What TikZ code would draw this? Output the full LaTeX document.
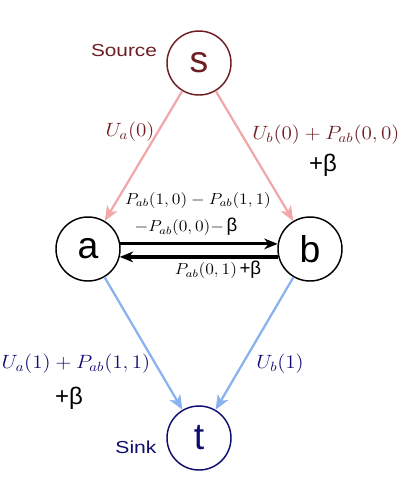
\documentclass[tikz,border=0pt]{standalone}
\usepackage{fontspec}
\setsansfont{Liberation Sans}
\usetikzlibrary{arrows.meta}

\definecolor{SourceRed}{RGB}{110,30,34}
\definecolor{SinkBlue}{RGB}{14,14,112}
\definecolor{UpPink}{RGB}{242,168,168}
\definecolor{DownBlue}{RGB}{138,178,240}

\newcommand{\wide}[2][1.1]{\scalebox{#1}[1]{#2}}
\newcommand{\sbeta}{{\sffamily\fontsize{14}{16}\selectfont β}}
\newcommand{\mbeta}{{\sffamily\fontsize{14}{16}\selectfont +β}}
\newcommand{\pbeta}{{\sffamily\fontsize{18}{20}\selectfont +β}}

\tikzset{
  vertex/.style={draw, circle, minimum size=48pt, inner sep=0pt, line width=1.1pt,
                 font=\fontsize{28}{30}\selectfont\sffamily},
  srcedge/.style={draw=UpPink, line width=1.7pt, -{Stealth[length=11pt, width=9pt, inset=3pt]}},
  sinkedge/.style={draw=DownBlue, line width=1.7pt, -{Stealth[length=11pt, width=9pt, inset=3pt]}},
  flow/.style={draw=black, line width=2.4pt, -{Stealth[length=10pt, width=8pt, inset=3pt]}},
  outmath/.style={inner sep=0pt, font=\fontsize{14}{16}\selectfont},
  midmath/.style={inner sep=0pt, font=\fontsize{11.5}{13}\selectfont},
  namelabel/.style={inner sep=0pt, font=\fontsize{13}{15}\selectfont\sffamily}
}

\begin{document}
\begin{tikzpicture}[x=0.75pt, y=-0.75pt]
  \useasboundingbox (0,0) rectangle (414,483);

  % terminals and the two pixels
  \node[vertex, draw=SourceRed, text=SourceRed] (s) at (199,63) {s};
  \node[vertex] (a) at (88,249) {a};
  \node[vertex] (b) at (310,249) {b};
  \node[vertex, draw=SinkBlue, text=SinkBlue] (t) at (199,438) {t};

  \node[namelabel, text=SourceRed] (srcname) at (124,51) {\wide[1.2]{Source}};
  \node[namelabel, text=SinkBlue] (sinkname) at (136,447) {\wide[1.22]{Sink}};

  % t-links
  \draw[srcedge] (s) -- (a);
  \draw[srcedge] (s) -- (b);
  \draw[sinkedge] (a) -- (t);
  \draw[sinkedge] (b) -- (t);

  % n-links
  \draw[flow] (a.9) -- (b.171);
  \draw[flow] (b.194) -- (a.-14);

  % capacities
  \node[outmath, text=SourceRed] (ua0) at (130,132) {\wide{$U_a(0)$}};
  \node[outmath, text=SourceRed] (ub0) at (326,135) {\wide{$U_b(0)+P_{ab}(0,0)$}};
  \node[inner sep=0pt] (beta1) at (323,165) {\pbeta};

  \node[midmath] (pab1) at (198,200) {\wide[1.1]{$P_{ab}(1,0)-P_{ab}(1,1)$}};
  \node[midmath] (pab2) at (186,227) {\wide[1.1]{$-P_{ab}(0,0)-$}\,\sbeta};
  \node[midmath] (pab3) at (218,270) {\wide[1.1]{$P_{ab}(0,1)$}\,\mbeta};

  \node[outmath, text=SinkBlue] (ua1) at (76,364) {\wide{$U_a(1)+P_{ab}(1,1)$}};
  \node[inner sep=0pt] (beta2) at (69,398) {\pbeta};
  \node[outmath, text=SinkBlue] (ub1) at (280,364) {\wide{$U_b(1)$}};
\end{tikzpicture}
\end{document}
